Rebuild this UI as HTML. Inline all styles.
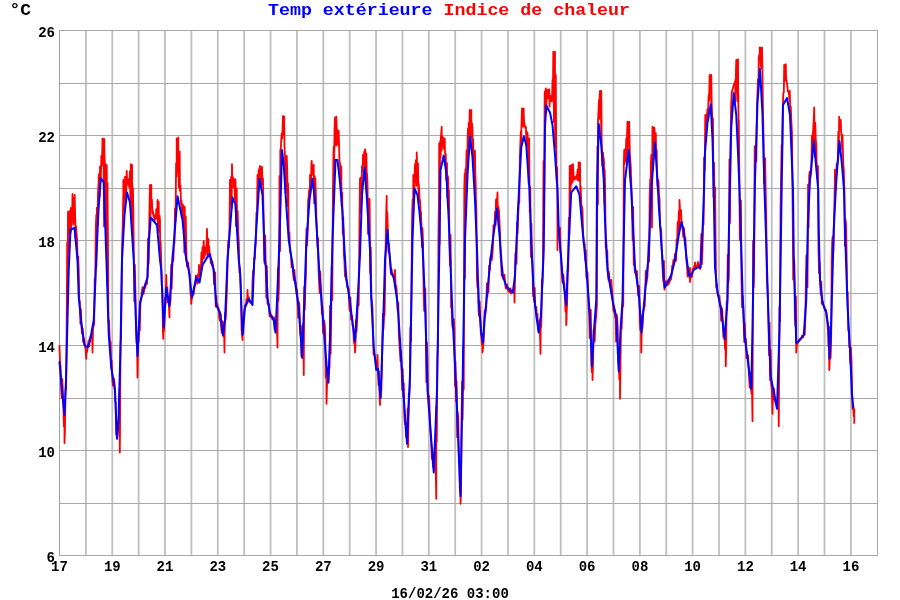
<!DOCTYPE html>
<html><head><meta charset="utf-8"><style>
html,body{margin:0;padding:0;background:#fff;}
body{width:900px;height:600px;overflow:hidden;}
svg{display:block;}
.t{font-family:"Liberation Mono",monospace;font-weight:bold;}
</style></head><body>
<svg width="900" height="600" viewBox="0 0 900 600">
<rect width="900" height="600" fill="#fff"/>
<g stroke="#bfbfbf" stroke-width="1.8"><line x1="85.88" y1="30" x2="85.88" y2="555" /><line x1="112.26" y1="30" x2="112.26" y2="555" /><line x1="138.64" y1="30" x2="138.64" y2="555" /><line x1="165.02" y1="30" x2="165.02" y2="555" /><line x1="191.40" y1="30" x2="191.40" y2="555" /><line x1="217.78" y1="30" x2="217.78" y2="555" /><line x1="244.16" y1="30" x2="244.16" y2="555" /><line x1="270.54" y1="30" x2="270.54" y2="555" /><line x1="296.92" y1="30" x2="296.92" y2="555" /><line x1="323.30" y1="30" x2="323.30" y2="555" /><line x1="349.68" y1="30" x2="349.68" y2="555" /><line x1="376.06" y1="30" x2="376.06" y2="555" /><line x1="402.44" y1="30" x2="402.44" y2="555" /><line x1="428.82" y1="30" x2="428.82" y2="555" /><line x1="455.20" y1="30" x2="455.20" y2="555" /><line x1="481.58" y1="30" x2="481.58" y2="555" /><line x1="507.96" y1="30" x2="507.96" y2="555" /><line x1="534.34" y1="30" x2="534.34" y2="555" /><line x1="560.72" y1="30" x2="560.72" y2="555" /><line x1="587.10" y1="30" x2="587.10" y2="555" /><line x1="613.48" y1="30" x2="613.48" y2="555" /><line x1="639.86" y1="30" x2="639.86" y2="555" /><line x1="666.24" y1="30" x2="666.24" y2="555" /><line x1="692.62" y1="30" x2="692.62" y2="555" /><line x1="719.00" y1="30" x2="719.00" y2="555" /><line x1="745.38" y1="30" x2="745.38" y2="555" /><line x1="771.76" y1="30" x2="771.76" y2="555" /><line x1="798.14" y1="30" x2="798.14" y2="555" /><line x1="824.52" y1="30" x2="824.52" y2="555" /><line x1="850.90" y1="30" x2="850.90" y2="555" /></g>
<rect x="59" y="30" width="819" height="1" fill="#a8a8a8"/><rect x="59" y="83" width="819" height="1" fill="#a8a8a8"/><rect x="59" y="135" width="819" height="1" fill="#a8a8a8"/><rect x="59" y="188" width="819" height="1" fill="#a8a8a8"/><rect x="59" y="240" width="819" height="1" fill="#a8a8a8"/><rect x="59" y="293" width="819" height="1" fill="#a8a8a8"/><rect x="59" y="345" width="819" height="1" fill="#a8a8a8"/><rect x="59" y="398" width="819" height="1" fill="#a8a8a8"/><rect x="59" y="450" width="819" height="1" fill="#a8a8a8"/><rect x="59" y="503" width="819" height="1" fill="#a8a8a8"/><rect x="59" y="555" width="819" height="1" fill="#a8a8a8"/>
<rect x="59" y="30" width="1" height="526" fill="#a0a0a0"/>
<rect x="877" y="30" width="1" height="526" fill="#a8a8a8"/>
<polyline points="59.50,345.0 59.50,347.7 60.05,362.1 60.60,366.6 61.15,389.2 61.70,398.3 62.25,379.0 62.80,388.8 63.35,405.8 63.90,426.5 64.45,419.8 64.50,443.0 65.00,428.5 65.55,388.9 66.10,389.4 66.65,327.2 67.20,242.7 67.75,294.3 68.00,211.7 68.30,220.1 68.85,251.1 69.40,211.1 69.95,227.4 70.50,217.9 70.80,208.0 71.05,231.9 71.60,207.9 72.15,217.3 72.50,194.0 72.70,198.4 73.25,224.5 73.80,197.8 74.35,222.0 74.70,195.0 74.90,206.4 75.30,220.0 75.45,238.5 76.00,226.0 76.55,233.3 77.10,239.6 77.65,260.5 78.20,256.4 78.75,271.4 79.30,300.9 79.85,301.0 80.40,323.7 80.95,309.1 81.50,327.4 82.05,333.8 82.60,328.3 83.15,341.9 83.70,338.4 84.25,339.9 84.80,346.6 85.35,346.9 85.90,354.1 86.25,358.8 86.45,350.3 87.00,352.1 87.55,348.7 88.10,343.6 88.65,340.5 89.20,346.4 89.75,338.1 90.30,337.2 90.85,335.4 91.40,337.5 91.95,334.4 92.50,348.2 92.50,352.5 93.05,327.8 93.60,325.9 94.15,323.8 94.70,278.4 95.25,280.6 95.80,227.6 96.30,215.0 96.35,266.6 96.90,207.7 97.45,224.7 98.00,192.3 98.55,183.1 98.70,176.7 99.10,173.9 99.65,196.4 100.00,166.7 100.20,166.5 100.75,182.0 101.30,159.3 101.30,155.8 101.85,165.6 102.40,143.7 102.50,138.3 102.95,162.8 103.50,147.3 104.05,226.4 104.20,139.0 104.60,159.6 105.00,163.3 105.15,191.6 105.70,166.6 106.25,247.3 106.70,165.0 106.80,175.1 107.35,285.9 107.50,183.0 107.90,233.1 108.45,321.8 109.00,320.0 109.55,334.7 110.10,344.5 110.65,342.0 111.20,367.9 111.75,360.5 112.30,379.0 112.85,385.6 113.40,382.1 113.95,378.6 114.50,382.8 115.05,401.3 115.60,401.9 116.15,434.5 116.70,426.9 117.25,437.4 117.80,427.9 118.35,423.7 118.90,425.7 119.45,389.2 119.80,452.5 120.00,432.4 120.55,343.6 121.10,337.6 121.65,278.8 122.20,242.6 122.75,222.7 123.30,194.1 123.30,180.0 123.85,210.8 124.40,185.8 124.95,196.2 125.00,176.7 125.50,177.0 126.05,198.7 126.60,174.2 126.70,170.8 127.15,180.1 127.70,178.8 128.25,185.2 128.30,181.7 128.80,179.3 129.35,187.5 129.90,171.2 130.45,206.6 130.80,164.2 131.00,170.6 131.55,223.2 132.00,165.0 132.10,167.9 132.65,230.9 133.00,188.3 133.20,202.8 133.75,246.7 134.30,301.3 134.85,264.6 135.40,290.4 135.95,327.9 136.50,342.8 137.05,343.5 137.50,377.5 137.60,371.9 138.15,337.5 138.70,341.9 139.25,321.7 139.80,330.8 140.35,304.7 140.90,300.7 141.45,296.9 142.00,290.4 142.55,287.2 143.10,293.4 143.65,293.8 144.20,288.7 144.75,286.2 145.30,288.0 145.85,283.3 146.40,283.2 146.95,284.1 147.50,274.7 148.05,238.5 148.60,264.0 149.15,226.8 149.70,196.2 150.00,185.0 150.25,218.7 150.80,188.0 151.30,185.0 151.35,206.3 151.90,199.3 152.45,213.3 152.50,210.0 153.00,211.4 153.55,216.7 154.10,215.0 154.65,220.8 155.00,216.7 155.20,215.8 155.75,218.5 156.30,209.1 156.85,218.4 157.40,207.5 157.50,200.0 157.95,232.2 158.50,210.1 158.70,201.7 159.05,231.7 159.60,215.7 160.00,220.0 160.15,248.1 160.70,241.7 161.25,263.1 161.80,284.9 162.35,291.4 162.90,330.8 163.25,338.8 163.45,317.3 164.00,331.0 164.55,317.6 165.10,297.6 165.65,304.2 166.20,278.0 166.25,275.0 166.75,294.8 167.30,287.2 167.85,302.3 168.40,298.2 168.95,306.0 169.50,317.5 169.50,302.9 170.05,304.0 170.60,299.5 171.15,265.0 171.70,288.8 172.25,265.4 172.80,252.1 173.35,260.6 173.90,242.4 174.45,243.6 175.00,208.3 175.00,211.2 175.55,220.5 176.10,163.2 176.65,176.5 176.70,138.3 177.20,152.8 177.75,172.5 178.30,137.5 178.30,147.6 178.85,187.3 179.40,159.4 179.70,151.7 179.95,190.9 180.50,185.6 180.80,196.7 181.05,204.4 181.60,200.9 182.15,215.5 182.70,209.0 183.00,205.0 183.25,223.7 183.80,207.9 184.35,252.5 184.70,206.7 184.90,215.2 185.45,255.1 185.80,216.7 186.00,230.9 186.55,258.9 187.10,266.6 187.65,265.1 188.20,262.4 188.75,270.5 189.30,271.6 189.85,274.8 190.40,291.6 190.95,298.5 191.25,303.8 191.50,300.8 192.05,296.8 192.60,295.9 193.15,293.4 193.70,294.1 194.25,288.9 194.80,284.9 195.35,285.1 195.90,275.4 196.45,275.9 197.00,282.5 197.55,283.6 198.10,273.8 198.65,278.4 199.00,265.0 199.20,267.4 199.75,273.1 200.30,275.8 200.85,270.6 201.40,252.6 201.95,265.4 202.50,247.4 203.05,258.6 203.60,241.5 203.75,241.0 204.15,257.9 204.70,246.8 205.25,254.7 205.50,250.0 205.80,249.4 206.35,251.9 206.90,232.7 207.00,228.8 207.45,257.1 208.00,238.4 208.50,240.0 208.55,250.8 209.10,246.5 209.65,254.2 210.20,253.9 210.75,263.3 211.30,258.6 211.85,265.6 212.40,261.7 212.95,266.1 213.50,269.5 214.05,284.0 214.60,280.4 215.15,272.4 215.70,306.6 216.25,296.2 216.80,306.8 217.35,303.8 217.90,308.7 218.45,307.8 219.00,313.6 219.55,319.5 220.10,320.9 220.65,314.0 221.20,328.1 221.75,332.9 222.30,321.2 222.85,331.8 223.40,336.6 223.95,322.5 224.50,352.5 224.50,347.1 225.05,312.7 225.60,320.0 226.15,310.5 226.70,295.4 227.25,277.2 227.80,251.3 228.35,240.7 228.90,247.5 229.45,228.2 230.00,180.0 230.00,181.8 230.55,203.3 231.10,176.8 231.65,208.3 232.00,164.2 232.20,173.0 232.75,187.2 233.30,177.8 233.70,180.0 233.85,187.5 234.40,180.2 234.95,199.2 235.30,179.2 235.50,182.1 236.05,226.1 236.60,193.8 236.70,188.3 237.15,224.1 237.70,210.8 238.25,233.2 238.80,242.3 239.35,272.6 239.90,268.8 240.45,278.1 241.00,293.1 241.55,330.0 242.10,334.9 242.50,340.0 242.65,328.1 243.20,332.8 243.75,314.7 244.30,309.9 244.85,306.8 245.40,304.3 245.95,305.1 246.50,299.0 247.05,302.2 247.50,290.0 247.60,293.5 248.15,298.3 248.70,297.1 249.25,301.7 249.80,302.4 250.35,301.7 250.90,301.6 251.45,303.1 252.00,301.7 252.55,281.1 253.10,270.7 253.65,273.0 254.20,258.1 254.75,259.0 255.30,247.6 255.85,242.3 256.40,212.7 256.95,213.9 257.50,175.0 257.50,178.3 258.05,182.6 258.60,171.0 259.15,169.2 259.70,168.2 260.00,165.8 260.25,180.4 260.80,168.2 261.35,184.5 261.90,170.0 262.00,166.7 262.45,180.3 263.00,178.3 263.00,178.7 263.55,216.7 264.10,260.1 264.65,263.7 265.20,235.3 265.75,271.1 266.30,297.8 266.85,266.0 267.40,302.9 267.95,304.7 268.50,304.1 269.05,305.0 269.60,316.1 270.15,311.9 270.70,316.9 271.25,315.4 271.80,315.8 272.35,319.3 272.90,319.4 273.45,318.1 274.00,317.3 274.55,329.4 275.10,324.4 275.65,331.9 276.20,320.6 276.75,327.2 277.30,339.9 277.50,347.5 277.85,268.5 278.40,300.9 278.95,286.2 279.50,175.9 280.05,251.0 280.30,150.0 280.60,152.0 281.15,141.1 281.70,133.3 281.70,134.5 282.25,138.4 282.80,121.8 283.00,115.8 283.35,134.9 283.90,125.1 284.20,116.7 284.45,145.2 285.00,156.7 285.00,159.1 285.55,192.8 286.10,159.8 286.65,190.2 286.70,155.8 287.20,168.6 287.75,205.9 288.00,183.3 288.30,195.4 288.85,237.0 289.40,232.1 289.95,251.3 290.50,253.1 291.05,253.6 291.60,267.2 292.15,260.3 292.70,268.7 293.25,275.2 293.80,280.2 294.35,269.9 294.90,278.0 295.45,281.5 296.00,283.1 296.55,294.0 297.10,289.5 297.65,302.2 298.20,317.7 298.75,301.8 299.30,304.0 299.85,323.6 300.40,334.9 300.95,331.5 301.50,356.4 302.05,326.0 302.60,358.1 303.15,324.1 303.70,368.1 303.75,375.0 304.25,286.9 304.80,309.4 305.35,287.8 305.90,274.9 306.45,228.6 307.00,245.8 307.55,234.8 308.10,201.2 308.65,196.3 309.20,189.6 309.75,196.3 310.00,175.0 310.30,176.7 310.85,186.3 311.40,163.7 311.70,160.8 311.95,169.9 312.50,165.0 313.05,175.3 313.60,170.3 313.70,165.0 314.15,203.2 314.70,176.1 315.25,191.5 315.30,178.3 315.80,191.9 316.35,218.2 316.90,232.3 317.45,246.7 318.00,237.9 318.55,270.4 319.10,282.3 319.65,293.0 320.20,271.6 320.75,284.9 321.30,294.6 321.85,314.0 322.40,305.9 322.95,332.9 323.50,327.1 324.05,320.4 324.60,323.6 325.15,331.6 325.70,377.4 326.25,358.8 326.50,403.8 326.80,392.7 327.35,375.4 327.90,381.5 328.45,382.6 329.00,371.7 329.55,367.1 330.10,305.6 330.65,353.8 331.20,318.5 331.75,266.3 332.30,300.0 332.85,197.9 333.40,155.5 333.70,146.7 333.95,180.3 334.50,129.6 335.00,117.5 335.05,145.0 335.60,122.8 336.15,145.5 336.30,116.7 336.70,127.5 337.25,144.4 337.50,130.0 337.80,133.9 338.35,145.2 338.70,130.8 338.90,139.1 339.45,160.4 340.00,163.3 340.00,163.9 340.55,180.7 341.10,166.2 341.30,166.7 341.65,205.6 342.20,192.5 342.75,234.4 343.30,217.3 343.85,254.1 344.40,261.0 344.95,276.3 345.50,276.6 346.05,279.0 346.60,281.4 347.15,286.8 347.70,286.7 348.25,289.2 348.80,288.8 349.35,307.4 349.90,311.0 350.45,297.3 351.00,319.4 351.55,315.9 352.10,315.9 352.65,325.9 353.20,326.0 353.75,340.8 354.30,344.1 354.85,339.8 355.00,352.5 355.40,347.6 355.95,320.3 356.50,331.9 357.05,322.4 357.60,307.4 358.15,293.6 358.70,305.3 359.25,247.3 359.80,192.5 360.00,178.3 360.35,213.4 360.90,177.4 361.45,202.9 362.00,166.0 362.55,171.0 363.00,155.0 363.10,160.7 363.65,164.4 364.20,151.6 364.75,168.0 365.00,149.2 365.30,150.7 365.85,176.5 366.30,153.3 366.40,156.5 366.95,183.7 367.00,173.3 367.50,183.4 368.05,234.0 368.30,198.3 368.60,204.2 369.15,213.0 369.50,198.8 369.70,209.2 370.25,273.0 370.80,247.4 371.35,297.1 371.90,302.3 372.45,306.3 373.00,330.7 373.55,354.7 374.10,354.3 374.65,355.2 375.20,358.1 375.75,362.0 376.30,366.2 376.85,369.2 377.40,368.4 377.50,355.0 377.95,370.4 378.50,385.1 379.05,371.4 379.60,398.2 380.00,405.0 380.15,385.2 380.70,397.5 381.25,391.8 381.80,375.2 382.35,338.9 382.90,313.6 383.45,329.0 384.00,315.6 384.55,315.7 385.10,284.3 385.65,246.5 386.20,214.0 386.70,195.8 386.75,228.9 387.30,212.2 387.85,231.7 388.40,251.9 388.95,243.3 389.50,252.6 390.05,256.7 390.60,269.7 391.15,274.7 391.70,269.5 392.25,273.9 392.80,274.5 393.35,277.2 393.90,274.4 394.45,276.7 395.00,270.0 395.00,272.7 395.55,284.4 396.10,286.1 396.65,289.7 397.20,303.1 397.75,311.8 398.30,302.7 398.85,335.1 399.40,343.8 399.95,352.4 400.50,361.1 401.05,350.6 401.60,369.3 402.15,389.9 402.70,369.2 403.25,397.4 403.80,383.1 404.35,415.4 404.90,423.9 405.45,421.8 406.00,436.9 406.55,430.5 407.10,442.2 407.65,408.5 408.00,447.0 408.20,442.8 408.75,393.2 409.30,396.0 409.85,386.4 410.40,327.1 410.95,341.4 411.50,282.8 412.05,218.6 412.60,199.4 413.15,214.6 413.30,175.0 413.70,179.2 414.25,196.5 414.80,166.9 415.30,163.3 415.35,180.5 415.90,160.1 416.45,185.8 416.70,152.5 417.00,161.2 417.55,184.5 418.00,163.3 418.10,172.2 418.65,201.4 418.70,183.3 419.20,190.5 419.75,202.2 420.00,200.0 420.30,203.9 420.85,220.9 421.00,212.0 421.40,223.4 421.95,247.0 422.50,228.2 423.05,242.5 423.60,291.6 424.15,310.8 424.70,295.0 425.25,288.3 425.80,327.6 426.35,382.2 426.90,342.1 427.45,357.2 428.00,391.3 428.55,398.0 429.10,396.0 429.65,409.9 430.20,428.1 430.75,436.1 431.30,444.3 431.85,458.9 432.40,448.7 432.95,466.7 433.50,453.6 434.05,465.3 434.60,459.4 435.15,445.1 435.70,467.7 436.25,498.8 436.25,406.6 436.80,442.0 437.35,359.4 437.90,345.9 438.45,237.3 439.00,190.8 439.20,143.3 439.55,244.5 440.10,141.4 440.65,157.6 440.80,138.3 441.20,133.9 441.70,126.7 441.75,150.5 442.30,136.4 442.85,142.2 443.00,137.5 443.40,139.5 443.95,148.7 444.50,145.1 444.70,138.3 445.05,153.7 445.60,153.7 445.80,155.0 446.15,179.7 446.70,162.9 447.00,163.3 447.25,197.7 447.80,176.0 448.30,180.0 448.35,197.9 448.90,190.2 449.45,245.4 450.00,265.5 450.55,235.0 451.10,307.2 451.65,307.9 452.20,324.9 452.75,328.0 453.30,320.7 453.85,319.1 454.40,329.8 454.95,386.3 455.50,361.8 456.05,401.2 456.60,381.2 457.15,437.3 457.70,412.1 458.25,418.3 458.80,458.0 459.35,465.1 459.90,491.6 460.45,468.6 460.50,503.8 461.00,492.9 461.55,417.5 462.10,381.7 462.65,419.3 463.20,347.0 463.75,389.3 464.30,187.6 464.70,173.3 464.85,278.6 465.40,169.2 465.95,174.5 466.50,152.4 466.70,150.0 467.05,191.2 467.60,139.2 468.00,128.3 468.15,147.4 468.70,122.9 469.25,135.6 469.70,110.0 469.80,110.2 470.35,144.5 470.90,110.3 471.30,110.0 471.45,137.9 472.00,123.1 472.50,128.3 472.55,150.6 473.10,139.2 473.65,164.2 473.70,150.0 474.20,154.4 474.75,186.9 475.00,150.8 475.30,171.8 475.80,186.7 475.85,196.8 476.40,210.0 476.95,279.3 477.50,287.8 478.05,280.3 478.60,311.8 479.15,316.1 479.70,301.4 480.25,318.7 480.80,332.8 481.35,337.8 481.90,344.8 482.45,338.5 482.50,352.5 483.00,348.0 483.55,342.2 484.10,321.6 484.65,310.4 485.20,315.2 485.75,311.0 486.30,306.7 486.85,283.5 487.40,296.6 487.95,287.0 488.50,292.1 489.05,265.5 489.60,270.6 490.15,258.9 490.70,256.0 491.25,259.7 491.80,259.9 492.35,255.3 492.90,247.5 493.45,225.3 494.00,225.6 494.55,224.4 495.10,211.4 495.65,225.1 496.00,200.0 496.20,199.2 496.75,205.4 497.30,196.1 497.50,192.5 497.85,220.2 498.40,206.3 498.95,216.0 499.00,210.0 499.50,221.7 500.05,233.2 500.60,256.9 501.15,263.4 501.70,275.8 502.25,266.9 502.80,276.8 503.35,279.3 503.90,278.4 504.45,274.7 505.00,281.4 505.55,286.9 506.10,288.6 506.65,285.7 507.20,284.3 507.75,289.3 508.30,291.3 508.85,288.9 509.40,292.2 509.95,290.4 510.50,288.3 511.05,293.7 511.60,290.8 512.15,291.3 512.70,290.1 513.25,292.6 513.80,284.9 514.35,289.3 514.50,302.5 514.90,283.4 515.45,253.0 516.00,256.2 516.55,263.7 517.10,222.6 517.65,233.7 518.20,215.8 518.75,202.4 519.30,202.7 519.85,157.0 520.40,142.6 520.80,131.7 520.95,147.1 521.50,122.9 522.00,108.3 522.05,124.8 522.60,110.7 523.15,126.6 523.70,108.3 523.70,112.7 524.25,125.5 524.30,123.3 524.80,124.9 525.35,128.2 525.80,126.7 525.90,127.2 526.45,145.8 527.00,132.0 527.50,133.3 527.55,134.0 528.10,145.1 528.65,183.9 529.20,138.3 529.20,142.4 529.75,212.2 530.30,187.0 530.85,256.9 531.40,223.5 531.95,257.0 532.50,264.0 533.05,296.1 533.60,294.0 534.15,301.9 534.70,288.0 535.25,307.8 535.80,308.0 536.35,307.1 536.90,321.3 537.45,314.0 538.00,328.3 538.55,331.5 539.10,331.4 539.65,320.2 540.20,342.7 540.50,353.8 540.75,328.5 541.30,325.7 541.85,279.7 542.40,284.6 542.95,261.0 543.50,160.9 544.05,218.9 544.60,104.6 544.70,91.7 545.15,99.5 545.70,89.8 545.80,88.3 546.25,113.3 546.80,90.4 547.35,98.5 547.50,90.0 547.90,90.0 548.45,97.7 549.00,89.5 549.20,89.2 549.55,106.7 550.10,95.5 550.65,98.8 550.80,98.3 551.20,97.2 551.75,101.7 552.30,88.5 552.50,80.0 552.85,99.5 553.30,51.7 553.40,55.8 553.95,122.2 554.50,66.1 555.00,51.7 555.05,146.7 555.60,92.2 555.80,75.0 556.15,137.5 556.70,179.5 557.25,167.7 557.50,250.0 557.80,208.5 558.35,234.9 558.90,234.6 559.45,239.0 560.00,227.6 560.55,252.0 561.10,253.0 561.65,271.6 562.20,280.3 562.75,282.9 563.30,274.4 563.85,281.7 564.40,284.0 564.95,299.6 565.50,311.5 566.05,294.8 566.25,325.0 566.60,315.1 567.15,301.0 567.70,271.1 568.25,271.5 568.80,217.7 569.35,235.1 569.70,165.8 569.90,175.7 570.45,195.0 571.00,165.9 571.30,165.0 571.55,183.9 572.10,169.5 572.65,182.2 573.00,164.2 573.20,169.6 573.75,178.3 574.20,178.3 574.30,179.7 574.85,179.5 575.40,176.8 575.95,176.5 576.50,177.0 576.70,175.0 577.05,179.5 577.60,169.7 578.15,180.1 578.70,162.5 578.70,162.6 579.25,181.0 579.80,165.1 580.00,162.5 580.35,198.4 580.80,186.7 580.90,193.5 581.45,205.9 582.00,206.4 582.55,211.8 583.10,232.1 583.65,242.0 584.20,243.8 584.75,244.1 585.30,260.4 585.85,250.4 586.40,277.8 586.95,278.3 587.50,272.2 588.05,289.5 588.60,305.6 589.15,315.2 589.70,338.0 590.25,331.7 590.80,310.0 591.35,364.6 591.90,372.2 592.45,351.9 592.50,380.0 593.00,366.0 593.55,330.2 594.10,336.6 594.65,341.6 595.20,326.2 595.75,320.3 596.30,314.6 596.85,305.0 597.40,146.4 597.95,204.3 598.00,121.7 598.50,110.9 599.00,100.0 599.05,119.1 599.60,96.7 600.00,90.8 600.15,110.6 600.70,99.3 601.25,134.1 601.30,90.8 601.70,143.3 601.80,146.0 602.35,165.9 602.90,152.3 603.45,156.9 603.70,158.3 604.00,162.0 604.55,203.5 604.70,170.0 605.10,186.1 605.65,247.7 606.20,243.5 606.75,262.1 607.30,250.7 607.85,273.5 608.40,279.8 608.95,271.9 609.50,280.2 610.05,286.5 610.60,283.2 611.15,287.7 611.25,280.0 611.70,286.4 612.25,292.3 612.80,301.3 613.35,310.5 613.90,311.8 614.45,309.4 615.00,317.1 615.55,315.0 616.10,341.7 616.65,314.4 617.20,317.0 617.75,328.8 618.30,362.1 618.85,366.4 619.40,379.8 619.95,343.3 620.00,398.8 620.50,364.3 621.05,324.3 621.60,329.3 622.15,314.5 622.70,304.3 623.25,306.4 623.80,164.2 624.20,150.0 624.35,164.2 624.90,149.4 625.45,160.9 626.00,145.2 626.30,138.3 626.55,163.1 627.10,132.4 627.50,121.7 627.65,156.3 628.20,125.3 628.75,145.1 629.20,121.7 629.30,129.1 629.85,153.3 630.00,155.0 630.40,161.3 630.80,166.7 630.95,172.7 631.50,189.2 632.05,205.3 632.60,240.4 633.15,206.7 633.70,264.8 634.25,260.2 634.80,272.5 635.35,270.4 635.90,272.0 636.45,271.4 637.00,271.1 637.55,285.8 638.10,295.6 638.65,292.3 639.20,286.0 639.75,321.1 640.30,330.1 640.85,314.9 641.25,352.5 641.40,349.0 641.95,315.2 642.50,327.9 643.05,310.4 643.60,310.5 644.15,303.8 644.70,306.6 645.25,290.3 645.80,270.8 646.35,284.1 646.90,279.4 647.45,277.0 648.00,260.9 648.55,242.6 649.10,261.7 649.65,197.5 650.20,179.1 650.75,178.3 650.80,165.0 651.30,155.0 651.85,181.5 652.00,227.5 652.40,131.9 652.50,126.7 652.95,151.7 653.50,128.4 654.05,128.1 654.20,127.5 654.60,130.8 655.15,143.2 655.70,135.6 655.80,133.3 656.25,158.4 656.70,150.0 656.80,157.8 657.35,183.7 657.90,188.0 658.45,180.2 659.00,194.3 659.55,199.3 660.10,226.2 660.65,227.9 661.20,230.0 661.75,250.5 662.30,260.5 662.85,275.8 663.40,281.8 663.95,261.0 664.50,289.7 665.05,284.7 665.60,286.7 666.15,281.2 666.70,284.8 667.25,284.9 667.80,285.0 668.35,279.9 668.90,283.6 669.45,281.2 670.00,281.3 670.55,276.2 671.10,279.2 671.65,274.2 672.20,265.6 672.75,267.3 673.30,260.2 673.85,260.3 674.40,261.1 674.95,253.8 675.50,261.0 676.05,260.6 676.60,239.2 677.15,242.1 677.70,221.9 678.25,231.6 678.80,211.1 679.35,226.8 679.50,200.0 679.90,208.4 680.45,214.3 681.00,210.2 681.00,210.0 681.55,222.4 682.10,221.8 682.65,229.6 683.20,236.7 683.75,227.9 684.30,233.3 684.85,244.7 685.40,237.3 685.95,255.6 686.50,261.7 687.05,266.4 687.60,276.5 688.15,266.8 688.70,275.5 689.25,276.0 689.80,279.2 690.00,268.0 690.00,282.0 690.35,274.1 690.90,277.7 691.45,276.0 692.00,276.6 692.55,270.0 693.10,268.3 693.65,269.0 694.20,266.2 694.75,268.1 695.00,262.5 695.30,265.0 695.85,266.6 696.40,268.3 696.95,267.4 697.50,264.4 698.00,262.0 698.05,266.0 698.60,264.1 699.15,265.7 699.70,268.2 700.25,269.0 700.80,250.9 701.35,234.0 701.90,264.2 702.45,250.8 703.00,222.7 703.55,224.6 704.10,157.4 704.65,170.4 705.20,120.3 705.30,115.0 705.75,130.4 706.30,120.7 706.70,114.2 706.85,119.0 707.40,109.2 707.95,117.3 708.50,97.8 708.70,95.0 709.05,100.6 709.60,77.4 709.70,75.0 710.15,84.2 710.70,75.2 711.25,112.3 711.30,75.0 711.70,103.3 711.80,105.4 712.35,119.8 712.90,119.6 713.00,118.3 713.45,196.9 714.00,162.6 714.55,203.5 715.10,187.3 715.65,246.8 716.20,287.8 716.75,284.1 717.30,290.1 717.85,294.6 718.40,295.8 718.95,295.7 719.50,295.7 720.05,305.9 720.60,305.2 721.15,320.6 721.70,307.6 722.25,310.0 722.80,322.5 723.35,336.9 723.90,332.9 724.45,332.4 725.00,349.0 725.55,340.9 725.75,366.2 726.10,352.4 726.65,301.6 727.20,309.7 727.75,254.9 728.30,283.0 728.85,277.8 729.40,159.4 729.95,223.1 730.50,146.7 731.05,108.4 731.60,95.5 731.70,91.7 732.15,91.2 732.70,89.1 733.25,87.1 733.70,85.0 733.80,85.6 734.35,83.2 734.90,83.2 735.30,80.0 735.45,101.3 736.00,68.4 736.30,60.0 736.55,91.0 737.10,75.0 737.65,101.4 738.00,59.2 738.20,100.7 738.30,93.3 738.75,152.9 738.80,120.0 739.30,169.0 739.85,240.0 740.40,233.1 740.95,200.4 741.50,279.9 742.05,307.2 742.60,296.1 743.15,303.7 743.70,321.3 744.25,342.0 744.80,322.9 745.35,340.9 745.90,338.6 746.45,358.0 747.00,357.5 747.55,354.6 748.10,355.7 748.65,368.3 749.20,379.5 749.75,387.6 750.30,372.5 750.85,386.6 751.40,393.5 751.95,387.3 752.50,420.2 752.50,421.2 753.05,240.8 753.60,287.3 754.15,265.9 754.70,146.1 755.25,156.8 755.80,151.8 756.35,161.1 756.90,110.2 757.45,93.2 757.50,91.7 758.00,79.1 758.55,80.4 758.70,58.3 759.10,55.2 759.65,59.3 759.70,47.5 760.20,47.7 760.75,66.4 761.30,51.6 761.85,68.1 762.00,47.5 762.40,69.2 762.50,73.3 762.95,108.2 763.00,111.7 763.50,136.1 764.05,183.4 764.60,174.7 765.15,158.2 765.70,192.7 766.25,217.9 766.80,276.3 767.35,286.6 767.90,298.2 768.45,317.2 769.00,355.2 769.55,322.8 770.10,380.2 770.65,350.1 771.20,385.0 771.75,387.8 772.30,405.7 772.50,413.8 772.85,395.9 773.40,399.7 773.95,388.3 774.50,394.7 775.05,400.6 775.60,402.7 776.15,402.4 776.70,403.7 777.25,406.6 777.80,402.5 778.35,378.4 778.75,426.2 778.90,411.6 779.45,306.6 780.00,321.6 780.55,211.3 781.10,172.4 781.65,145.1 782.20,148.0 782.75,111.9 783.00,101.7 783.30,93.3 783.85,92.3 784.20,65.0 784.40,65.7 784.95,80.7 785.50,66.5 785.80,64.2 786.05,76.1 786.60,80.7 786.70,81.7 787.15,85.2 787.70,89.4 788.00,91.7 788.25,91.9 788.80,91.5 789.35,99.7 789.70,90.8 789.90,94.2 790.45,121.1 790.80,106.7 791.00,111.9 791.55,125.0 792.00,133.3 792.10,142.2 792.65,211.5 793.20,279.5 793.75,268.7 794.30,261.3 794.85,318.4 795.40,326.1 795.95,296.5 796.25,352.5 796.50,348.7 797.05,343.1 797.60,343.4 798.15,342.0 798.70,341.5 799.25,339.8 799.80,338.8 800.35,339.0 800.90,337.9 801.45,338.1 802.00,335.7 802.55,336.0 803.10,337.4 803.65,334.9 804.20,335.0 804.75,334.7 805.30,320.4 805.85,283.5 806.40,255.3 806.95,276.1 807.50,287.2 808.05,184.6 808.60,227.8 809.15,175.6 809.70,171.6 810.25,177.3 810.80,174.2 811.35,170.9 811.90,135.4 812.45,151.3 813.00,134.9 813.00,133.3 813.55,122.5 814.10,111.2 814.20,107.5 814.65,156.5 815.20,122.5 815.30,123.3 815.75,138.8 816.30,146.2 816.30,143.3 816.85,172.8 817.40,178.6 817.95,166.0 818.50,250.9 819.05,273.1 819.60,262.7 820.15,281.2 820.70,294.5 821.25,281.3 821.80,303.9 822.35,302.0 822.90,301.5 823.45,306.2 824.00,306.9 824.55,308.9 825.10,310.8 825.65,310.4 826.20,310.0 826.75,318.6 827.30,321.4 827.85,329.1 828.40,346.5 828.95,326.7 829.25,370.0 829.50,366.1 830.05,344.8 830.60,358.0 831.15,342.4 831.70,262.5 832.25,240.1 832.80,236.5 833.35,251.9 833.90,221.5 834.45,203.0 835.00,169.6 835.55,178.2 836.10,189.0 836.65,163.8 837.20,165.0 837.75,160.6 838.30,133.0 838.30,131.7 838.85,141.2 839.20,116.7 839.40,120.7 839.95,128.6 840.50,120.6 840.80,120.0 841.05,131.2 841.60,135.7 841.70,134.2 842.15,149.0 842.50,135.0 842.70,142.6 843.25,163.1 843.80,170.2 844.35,188.3 844.90,246.0 845.45,219.3 846.00,223.8 846.55,251.5 847.10,295.9 847.65,291.9 848.20,330.3 848.75,330.9 849.30,347.1 849.85,347.0 850.40,363.3 850.95,347.7 851.50,361.2 852.05,389.9 852.60,409.0 853.15,404.3 853.70,416.2 854.25,409.1 854.25,423.8" fill="none" stroke="#ff0000" stroke-width="1.8" stroke-linejoin="round"/>
<polyline points="59.50,362.0 62.00,390.0 64.50,415.0 66.00,380.0 68.75,270.0 70.50,229.5 74.50,228.0 77.50,260.0 78.75,297.5 81.25,322.5 84.50,345.0 87.50,347.5 90.00,341.0 93.75,320.0 96.25,260.0 98.50,210.0 100.75,178.0 103.75,182.5 106.50,262.0 108.75,335.0 111.25,367.5 115.00,390.0 117.00,438.8 118.50,420.0 120.50,347.5 122.00,260.0 124.50,215.0 127.00,192.5 130.00,202.5 133.75,260.0 136.25,330.0 137.50,356.0 140.00,302.5 145.00,285.0 147.50,277.5 149.00,240.0 150.75,217.5 157.00,225.0 160.00,260.0 161.25,270.0 163.75,327.5 166.25,287.5 169.50,306.0 172.50,260.0 177.50,196.2 182.50,220.0 186.25,260.0 188.75,270.0 192.00,297.5 196.25,277.5 199.50,282.5 202.50,265.0 209.50,253.8 211.25,260.0 213.75,270.0 216.25,305.0 220.00,312.5 223.00,335.0 225.00,320.0 227.50,260.0 232.50,197.5 235.50,205.0 238.75,260.0 240.00,270.0 242.50,335.0 245.00,307.5 248.75,298.8 252.50,305.0 254.00,265.0 259.50,178.8 262.50,195.0 265.00,260.0 266.25,270.0 267.50,297.5 270.00,313.8 273.75,320.0 275.50,332.5 277.50,290.0 279.50,240.0 282.00,150.0 283.75,165.0 286.25,205.0 288.75,240.0 292.50,265.0 296.25,290.0 298.75,307.5 301.25,345.0 302.00,357.5 303.75,315.0 306.25,245.0 309.50,200.0 312.50,178.8 315.00,200.0 318.00,250.0 320.00,282.5 323.75,327.5 326.25,362.5 328.25,382.5 330.00,340.0 332.50,240.0 335.50,160.0 337.50,160.0 340.00,182.5 342.50,212.5 344.50,250.0 346.25,277.5 350.00,302.5 352.50,322.5 355.00,341.2 357.50,302.5 360.00,255.0 362.00,195.0 364.50,167.5 367.00,200.0 370.00,250.0 371.25,297.5 373.75,347.5 376.25,370.0 378.00,368.8 380.50,398.0 383.00,330.0 385.00,260.0 387.50,230.0 389.00,250.0 391.25,272.5 393.75,277.5 397.50,302.5 400.00,340.0 402.50,380.0 407.00,443.8 410.00,375.0 412.50,240.0 414.50,188.8 417.50,195.0 419.50,212.5 422.50,245.0 425.00,300.0 427.50,390.0 433.75,472.5 437.00,390.0 439.50,240.0 440.50,170.0 443.75,155.5 446.25,172.5 448.75,220.0 452.50,315.0 456.25,390.0 460.50,496.2 462.50,390.0 465.00,240.0 467.50,175.0 470.00,136.2 472.50,157.5 475.00,200.0 477.00,250.0 478.75,302.5 481.25,332.5 483.00,342.5 485.00,315.0 487.50,290.0 490.00,265.0 492.50,242.5 497.00,208.8 499.50,235.0 502.50,275.0 506.25,286.2 510.00,290.0 513.00,292.5 515.00,275.0 517.50,220.0 519.50,180.0 521.25,147.5 523.75,136.2 526.25,145.0 528.00,170.0 529.50,190.0 531.25,242.5 533.75,292.5 536.25,315.0 538.75,332.5 541.00,315.0 543.75,250.0 545.00,127.5 546.25,105.5 550.00,112.5 552.50,125.0 555.00,155.0 557.50,190.0 558.75,230.0 562.50,275.0 566.25,305.0 568.75,242.5 571.25,192.5 576.25,186.2 579.50,195.0 582.50,230.0 586.25,267.5 590.00,317.5 592.00,366.2 594.00,330.0 596.25,300.0 597.00,190.0 598.75,124.0 601.25,145.0 603.75,180.0 605.00,220.0 607.50,270.0 612.50,300.0 616.25,317.5 618.75,371.2 620.50,330.0 622.50,300.0 625.00,180.0 628.75,150.0 630.00,175.0 631.25,190.0 635.00,267.5 638.75,292.5 641.50,332.5 645.00,292.5 648.75,255.0 651.25,190.0 655.00,142.5 658.00,190.0 658.75,205.0 661.25,242.5 664.50,287.5 667.50,282.5 671.25,275.0 675.00,260.0 678.75,235.0 681.25,222.5 683.75,230.0 686.25,255.0 688.75,275.0 690.50,276.2 693.75,270.0 697.50,267.5 700.50,267.5 702.00,242.5 703.75,200.0 705.00,152.5 707.50,122.5 710.75,104.5 712.50,140.0 713.75,190.0 715.00,267.5 717.50,292.5 721.25,310.0 724.50,338.8 727.50,300.0 730.00,180.0 731.25,127.5 733.75,93.0 736.25,115.0 738.00,152.5 739.50,190.0 742.50,292.5 744.50,335.0 747.50,357.5 751.25,388.8 752.50,330.0 755.00,180.0 757.50,102.5 760.00,68.8 762.50,115.0 764.50,190.0 766.25,242.5 768.50,320.0 770.50,375.0 773.75,392.5 777.00,408.8 779.50,330.0 781.50,200.0 783.00,105.0 787.00,98.0 790.00,115.0 793.00,190.0 793.75,255.0 796.25,343.0 800.00,340.0 803.75,335.0 806.25,300.0 808.00,220.0 810.00,180.0 813.75,141.2 816.00,165.0 818.25,190.0 818.75,230.0 820.00,280.0 822.50,302.5 826.25,312.5 828.75,330.0 829.50,358.8 831.00,330.0 833.75,230.0 836.25,180.0 839.50,141.2 842.00,165.0 844.00,190.0 845.00,230.0 847.50,305.0 850.00,350.0 852.00,395.0 853.25,407.5" fill="none" stroke="#0000ff" stroke-width="2.0" stroke-linejoin="round" stroke-linecap="round"/>
<g class="t" font-size="14" fill="#000"><text x="55" y="37" text-anchor="end">26</text><text x="55" y="142" text-anchor="end">22</text><text x="55" y="247" text-anchor="end">18</text><text x="55" y="352" text-anchor="end">14</text><text x="55" y="457" text-anchor="end">10</text><text x="55" y="562" text-anchor="end">6</text><text x="59.5" y="571" text-anchor="middle">17</text><text x="112.3" y="571" text-anchor="middle">19</text><text x="165.0" y="571" text-anchor="middle">21</text><text x="217.8" y="571" text-anchor="middle">23</text><text x="270.5" y="571" text-anchor="middle">25</text><text x="323.3" y="571" text-anchor="middle">27</text><text x="376.1" y="571" text-anchor="middle">29</text><text x="428.8" y="571" text-anchor="middle">31</text><text x="481.6" y="571" text-anchor="middle">02</text><text x="534.3" y="571" text-anchor="middle">04</text><text x="587.1" y="571" text-anchor="middle">06</text><text x="639.9" y="571" text-anchor="middle">08</text><text x="692.6" y="571" text-anchor="middle">10</text><text x="745.4" y="571" text-anchor="middle">12</text><text x="798.1" y="571" text-anchor="middle">14</text><text x="850.9" y="571" text-anchor="middle">16</text>
<text x="450" y="597.5" text-anchor="middle">16/02/26 03:00</text>
</g>
<g class="t" font-size="18">
<g transform="translate(0,14.6) scale(1,0.87) translate(0,-14.6)">
<text x="9.5" y="14.6" fill="#000" textLength="21.6" lengthAdjust="spacingAndGlyphs">°C</text>
<text x="268" y="14.6" textLength="362" lengthAdjust="spacingAndGlyphs"><tspan fill="#0000ff">Temp extérieure</tspan> <tspan fill="#ff0000">Indice de chaleur</tspan></text></g>
</g>
</svg>
</body></html>
